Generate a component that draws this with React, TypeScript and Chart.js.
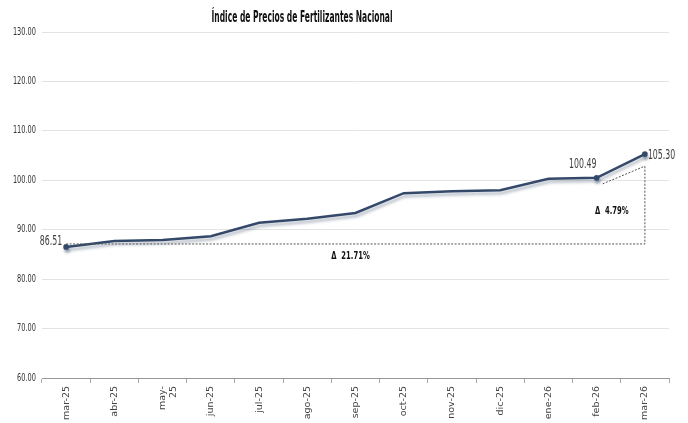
import React, { useEffect, useRef } from "react";
import { Chart, registerables } from "chart.js";

Chart.register(...registerables);

const categories: (string | string[])[] = [
  "mar-25", "abr-25", ["may-", "25"], "jun-25", "jul-25", "ago-25", "sep-25",
  "oct-25", "nov-25", "dic-25", "ene-26", "feb-26", "mar-26",
];
const indexValues = [86.51, 87.7, 87.9, 88.7, 91.4, 92.2, 93.4, 97.4, 97.8, 98.0, 100.3, 100.49, 105.3];
const yTicks = [60, 70, 80, 90, 100, 110, 120, 130];
const titleText = "Índice de Precios de Fertilizantes Nacional";
const deltaTotal = "Δ  21.71%";
const deltaMonth = "Δ  4.79%";
const labelledPoints = [0, 11, 12];

const FONT = "'DejaVu Sans', sans-serif";

function narrowText(ctx: any, text: string, x: number, y: number, align: string, font: string, sx: number, color: string) {
  ctx.save();
  ctx.translate(x, y);
  ctx.scale(sx, 1);
  ctx.font = font;
  ctx.fillStyle = color;
  ctx.textAlign = align;
  ctx.textBaseline = "middle";
  ctx.fillText(text, 0, 0);
  ctx.restore();
}

export default function App() {
  const ref = useRef<HTMLCanvasElement | null>(null);

  useEffect(() => {
    document.body.style.margin = "0";
    const canvas = ref.current;
    if (!canvas) return;

    const shadowPlugin = {
      id: "shadow",
      beforeDatasetDraw(chart: any) {
        const ctx = chart.ctx;
        ctx.save();
        ctx.shadowColor = "rgba(60,80,110,0.4)";
        ctx.shadowBlur = 3;
        ctx.shadowOffsetX = 1;
        ctx.shadowOffsetY = 3;
      },
      afterDatasetDraw(chart: any) {
        chart.ctx.restore();
      },
    };

    const yLabelPlugin = {
      id: "ylabels",
      afterDraw(chart: any) {
        const ctx = chart.ctx;
        const ys = chart.scales.y;
        ys.ticks.forEach((t: any) => {
          narrowText(ctx, Number(t.value).toFixed(2), 36, ys.getPixelForValue(t.value), "right", "10px " + FONT, 0.66, "#333");
        });
      },
    };

    const annotPlugin = {
      id: "annot",
      afterDatasetsDraw(chart: any) {
        const ctx = chart.ctx;
        const xs = chart.scales.x;
        const ys = chart.scales.y;
        const n = indexValues.length;
        const x0 = xs.getPixelForValue(0);
        const y0 = ys.getPixelForValue(indexValues[0]) - 3;
        const xl = xs.getPixelForValue(n - 1);
        const yl = ys.getPixelForValue(indexValues[n - 1]) + 12;
        const xf = xs.getPixelForValue(n - 2) + 6;
        const yf = ys.getPixelForValue(indexValues[n - 2]) + 6;

        ctx.save();
        ctx.strokeStyle = "#555";
        ctx.lineWidth = 1;
        ctx.setLineDash([2, 1.5]);
        ctx.beginPath();
        ctx.moveTo(x0, y0);
        ctx.lineTo(xl, y0);
        ctx.lineTo(xl, yl);
        ctx.stroke();
        ctx.beginPath();
        ctx.moveTo(xf, yf);
        ctx.lineTo(xl, yl);
        ctx.stroke();
        ctx.restore();

        narrowText(ctx, deltaTotal, (x0 + xl) / 2 - 5, y0 + 12, "center", "bold 11px " + FONT, 0.62, "#111");
        narrowText(ctx, deltaMonth, xs.getPixelForValue(n - 1.5) - 9, ys.getPixelForValue(indexValues[n - 1]) + 57, "center", "bold 11px " + FONT, 0.62, "#111");

        labelledPoints.forEach((i) => {
          const px = xs.getPixelForValue(i);
          const py = ys.getPixelForValue(indexValues[i]);
          const txt = indexValues[i].toFixed(2);
          const f = "14px " + FONT;
          if (i === 0) {
            narrowText(ctx, txt, px - 4, py - 6, "right", f, 0.56, "#404040");
          } else if (i === n - 1) {
            narrowText(ctx, txt, px + 3, py + 1, "left", f, 0.56, "#404040");
          } else {
            narrowText(ctx, txt, px - 14, py - 14, "center", f, 0.56, "#404040");
          }
        });

        const tf = "bold 15px " + FONT;
        ctx.save();
        ctx.font = tf;
        const w = ctx.measureText(titleText).width;
        ctx.restore();
        narrowText(ctx, titleText, 302, 18, "center", tf, 181 / w, "#111");
      },
    };

    const chart = new Chart(canvas, {
      type: "line",
      data: {
        labels: categories,
        datasets: [
          {
            data: indexValues,
            borderColor: "#34496a",
            backgroundColor: "#34496a",
            borderWidth: 2.5,
            tension: 0,
            pointRadius: indexValues.map((_, i) => (labelledPoints.includes(i) ? 1.6 : 0)),
            pointHoverRadius: 0,
          },
        ],
      },
      options: {
        animation: false,
        responsive: false,
        maintainAspectRatio: false,
        layout: { padding: { top: 32, right: 19, left: 0, bottom: 0 } },
        plugins: { legend: { display: false }, tooltip: { enabled: false }, title: { display: false } },
        scales: {
          x: {
            offset: true,
            grid: { display: true, drawOnChartArea: false, color: "#aaa", tickLength: 5, offset: true },
            border: { display: true, color: "#999" },
            ticks: {
              minRotation: 90,
              maxRotation: 90,
              autoSkip: false,
              color: "#444",
              font: { family: FONT, size: 9.5 },
              padding: 3,
            },
            afterFit(scale: any) {
              scale.height = 45;
            },
          },
          y: {
            min: 60,
            max: 130,
            afterBuildTicks(scale: any) {
              scale.ticks = yTicks.map((v) => ({ value: v }));
            },
            grid: { color: "#e3e3e3", drawTicks: false },
            border: { display: false },
            ticks: { display: false },
            afterFit(scale: any) {
              scale.width = 42;
            },
          },
        },
      },
      plugins: [shadowPlugin, annotPlugin, yLabelPlugin],
    });
    return () => chart.destroy();
  }, []);

  return (
    <div style={{ position: "fixed", left: 0, top: 0, width: 688, height: 423, background: "#fff" }}>
      <canvas ref={ref} width={688} height={423} style={{ width: 688, height: 423 }} />
    </div>
  );
}
